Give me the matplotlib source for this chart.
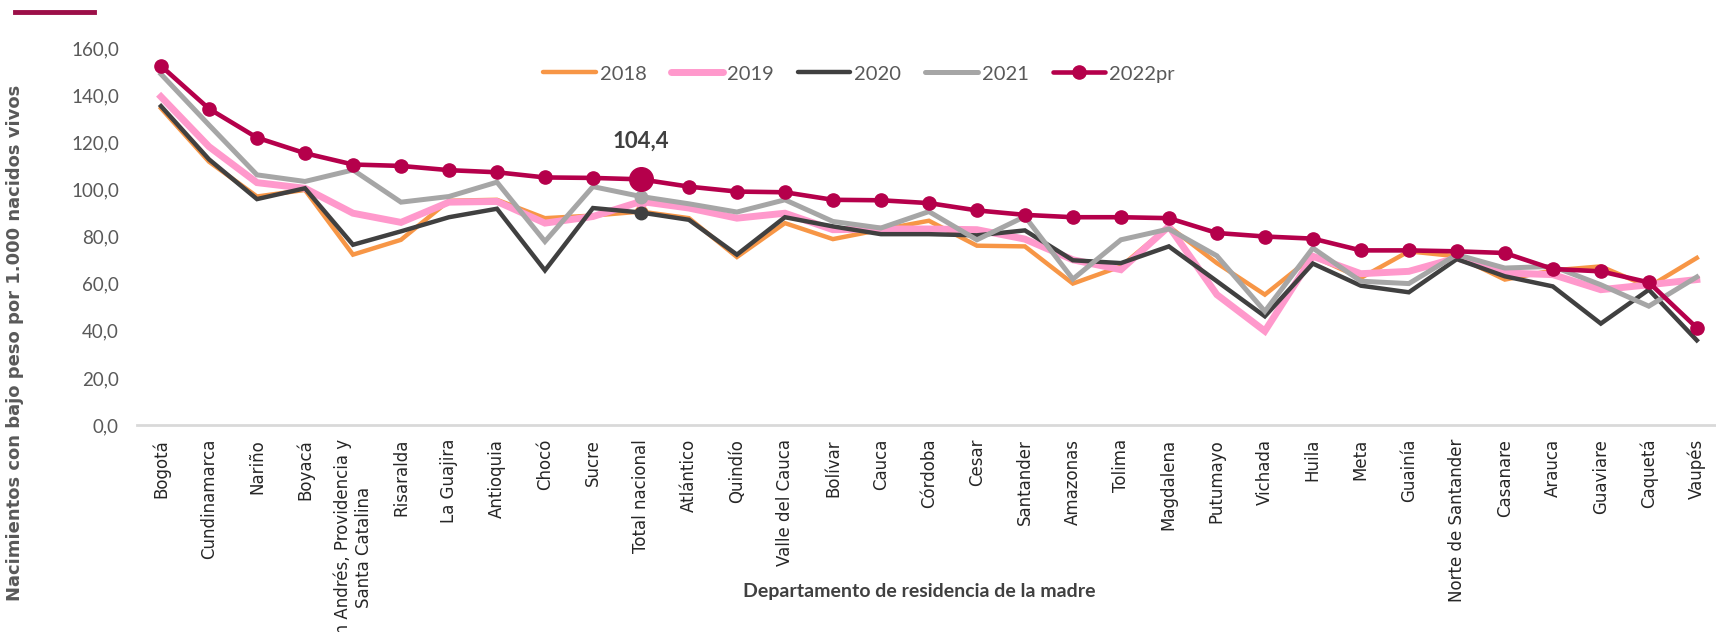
import matplotlib
matplotlib.use("Agg")
import matplotlib.pyplot as plt
from matplotlib.lines import Line2D
import numpy as np

narrow = ['Lato', 'DejaVu Sans']

categories = ["Bogotá", "Cundinamarca", "Nariño", "Boyacá",
              "San Andrés, Providencia y\nSanta Catalina", "Risaralda",
              "La Guajira", "Antioquia", "Chocó", "Sucre", "Total nacional",
              "Atlántico", "Quindío", "Valle del Cauca", "Bolívar", "Cauca",
              "Córdoba", "Cesar", "Santander", "Amazonas", "Tolima",
              "Magdalena", "Putumayo", "Vichada", "Huila", "Meta", "Guainía",
              "Norte de Santander", "Casanare", "Arauca", "Guaviare",
              "Caquetá", "Vaupés"]

v2018 = [134.6, 111.9, 97.1, 99.9, 72.4, 78.7, 95.3, 95.7, 87.9, 89.0, 90.7,
         87.9, 71.4, 85.8, 79.0, 83.0, 86.8, 76.2, 75.9, 60.1, 67.4, 84.4,
         68.8, 55.4, 71.7, 62.5, 73.8, 71.7, 61.8, 65.7, 67.4, 58.7, 71.0]
v2019 = [139.5, 118.3, 103.0, 100.6, 90.0, 86.1, 94.7, 95.0, 85.8, 88.6, 95.0,
         92.2, 87.9, 90.0, 83.0, 83.3, 83.3, 83.0, 79.0, 70.2, 66.0, 84.4,
         55.4, 39.9, 71.7, 64.3, 65.3, 71.0, 64.6, 63.9, 57.5, 59.6, 61.8]
v2020 = [135.5, 112.9, 96.0, 100.6, 76.6, 82.3, 88.3, 91.9, 65.7, 92.2, 90.3,
         87.2, 72.4, 88.3, 84.4, 81.1, 81.1, 80.6, 82.7, 70.0, 68.8, 75.9,
         61.1, 46.2, 68.6, 59.2, 56.4, 70.5, 63.2, 58.9, 43.1, 57.5, 36.0]
v2021 = [149.1, 127.5, 106.3, 103.5, 108.4, 94.7, 97.1, 103.2, 78.0, 101.3, 97.1,
         94.0, 90.5, 95.7, 86.5, 83.7, 90.7, 78.7, 88.6, 62.0, 78.7, 83.3,
         71.9, 48.3, 75.2, 61.1, 60.1, 72.4, 66.7, 67.4, 59.6, 50.5, 62.9]
v2022 = [152.6, 134.4, 122.1, 115.5, 110.7, 110.1, 108.3, 107.4, 105.2, 105.0, 104.4,
         101.3, 99.2, 98.9, 95.7, 95.5, 94.3, 91.2, 89.3, 88.3, 88.3, 87.9,
         81.6, 80.1, 79.2, 74.2, 74.2, 73.8, 73.1, 66.3, 65.3, 60.6, 41.3]

series = [("2018", v2018, "#F79646", 3.2),
          ("2019", v2019, "#FF99CC", 5.0),
          ("2020", v2020, "#404040", 3.2),
          ("2021", v2021, "#A6A6A6", 3.6)]
c2022 = "#B5004B"

x = np.arange(len(categories))
tn = categories.index("Total nacional")

fig = plt.figure(figsize=(17.16, 6.32), dpi=100)
ax = fig.add_axes([137 / 1716, 1 - 425 / 632, 1 - 137 / 1716, (425 - 48.5) / 632])

handles = []
for name, vals, col, lw in series:
    ax.plot(x, vals, color=col, lw=lw, solid_joinstyle='miter', zorder=2)
    ax.plot(x[tn], vals[tn], 'o', color=col, ms=9, zorder=2)
    handles.append(Line2D([], [], color=col, lw=lw, solid_capstyle='round', label=name))

ax.plot(x, v2022, color=c2022, lw=3.3, marker='o', ms=9.5, zorder=3)
ax.plot(x[tn], v2022[tn], 'o', color=c2022, ms=17, zorder=4)
handles.append(Line2D([], [], color=c2022, lw=3.3, marker='o', ms=9.5,
                      solid_capstyle='round', label="2022pr"))

ax.annotate(f"{v2022[tn]:.1f}".replace('.', ','), (x[tn], v2022[tn]),
            xytext=(0, 23), textcoords='offset points', ha='center',
            fontsize=16, fontweight='bold', color='#404040', family=narrow)

ax.set_xlim(-0.5, 32.4)
ax.set_ylim(0, 160)
ax.set_yticks(np.arange(0, 161, 20))
ax.set_yticklabels([f"{t:.1f}".replace('.', ',') for t in np.arange(0, 161, 20)],
                   family=narrow, fontsize=13.5, color='#595959')
ax.set_xticks(x)
ax.set_xticklabels(categories, rotation=90, fontsize=12, color='#262626',
                   va='top', ha='center', multialignment='center')
ax.tick_params(length=0)
ax.tick_params(axis='y', pad=13)
ax.tick_params(axis='x', pad=10)
for s in ['top', 'right', 'left']:
    ax.spines[s].set_visible(False)
ax.spines['bottom'].set_color('#D9D9D9')
ax.spines['bottom'].set_linewidth(2)

leg = fig.legend(handles=handles, loc='center', bbox_to_anchor=(0.5006, 1 - 74 / 632),
                 ncol=5, frameon=False, handlelength=2.6, handletextpad=0.2,
                 columnspacing=1.2, prop={'family': narrow, 'size': 14.5})
for t in leg.get_texts():
    t.set_color('#595959')

fig.text(0.009, 1 - 343 / 632, "Nacimientos con bajo peso por 1.000 nacidos vivos",
         rotation=90, ha='center', va='center', fontsize=13, fontweight='bold',
         color='#595959')
fig.text(919 / 1716, 1 - 591 / 632, "Departamento de residencia de la madre",
         ha='center', va='center', fontsize=14, fontweight='bold', color='#404040',
         family=narrow)

fig.add_artist(Line2D([15 / 1716, 94 / 1716], [1 - 12 / 632, 1 - 12 / 632],
                      color='#9C0F48', lw=3.5))

fig.savefig("out.png", dpi=100)
